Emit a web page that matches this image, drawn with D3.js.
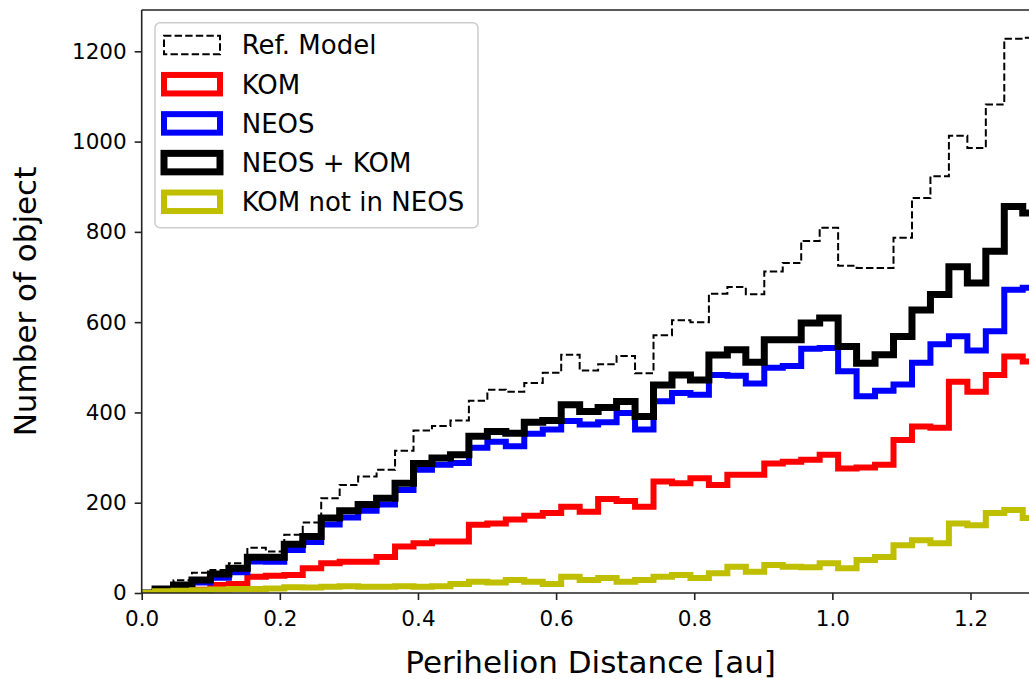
<!DOCTYPE html>
<html><head><meta charset="utf-8">
<script src="https://cdn.jsdelivr.net/npm/d3@7"></script>
<style>
body{margin:0;background:#fff}
svg{display:block}
text{font-family:"DejaVu Sans",sans-serif;fill:#000}
</style>
</head><body>
<svg id="chart" width="1029" height="679"></svg>
<script>
// ---- data (histogram bins: first edge and width, in au) ----
const binStart = -0.0074;
const binWidth = 0.02673;

const refModel = [0, 12,28,45,51,66,100,92,129,156,210,239,258,273,315,360,370,382,426,450,446,465,488,528,493,507,525,487,571,604,600,663,678,662,712,731,780,809,725,720,720,787,875,923,1013,986,1082,1228,1230];
const komValues = [0, 4,5,7,18,20,36,38,40,55,66,69,69,80,103,110,114,114,151,154,163,171,177,191,180,208,204,191,247,243,254,239,262,262,287,291,295,306,276,278,284,339,369,366,468,446,483,524,513];
const neosValues = [0, 5,13,23,34,46,70,69,95,113,152,167,182,196,228,273,284,288,322,335,325,353,362,381,373,378,399,362,425,443,439,483,481,464,499,503,541,543,491,436,448,462,510,551,569,537,580,672,676];
const neosKomValues = [0, 9,18,29,42,55,79,79,108,125,166,182,196,210,243,287,299,306,347,358,354,378,382,417,402,411,424,391,461,483,472,527,539,511,561,561,598,609,546,509,528,568,627,661,723,687,757,856,842];
const komNotNeosValues = [0, 4,5,6,8,9,9,10,13,12,14,15,14,14,15,14,15,20,25,23,29,25,20,36,29,33,25,29,36,40,33,44,58,47,62,58,57,66,55,73,80,106,117,110,154,150,177,184,166];

const seriesNames = ["Ref. Model","KOM","NEOS","NEOS + KOM","KOM not in NEOS"];
const xTicks = [0.0,0.2,0.4,0.6,0.8,1.0,1.2];
const yTicks = [0,200,400,600,800,1000,1200];
const xLabel = "Perihelion Distance [au]";
const yLabel = "Number of object";

(function(){
// ---- styles ----
const styles = [
  {values: refModel, color:"#000000", width:2, dash:"7.4,3.2"},
  {values: komValues, color:"#ff0000", width:6, dash:null},
  {values: neosValues, color:"#0000ff", width:6, dash:null},
  {values: neosKomValues, color:"#000000", width:7, dash:null},
  {values: komNotNeosValues, color:"#bfbf00", width:6, dash:null}
];

const svg = d3.select("#chart");
const pLeft = 141.7, pTop = 10, pBottom = 593;
const pxPerUnit = (970.5 - 141.7) / 1.2;
const x = d3.scaleLinear().domain([0, 1.3]).range([pLeft, pLeft + 1.3 * pxPerUnit]);
const y = d3.scaleLinear().domain([0, 1291.5]).range([pBottom, pTop]);

svg.append("defs").append("clipPath").attr("id","clip")
  .append("rect").attr("x", x(0)).attr("y", y(1291.5))
  .attr("width", x(1.3)-x(0)).attr("height", y(0)-y(1291.5));

const plot = svg.append("g").attr("clip-path","url(#clip)");

function stepPoints(vals){
  const pts = [[binStart, 0]];
  vals.forEach((v,i)=>{
    const e0 = binStart + i*binWidth, e1 = binStart + (i+1)*binWidth;
    pts.push([e0, v]); pts.push([e1, v]);
  });
  pts.push([binStart + vals.length*binWidth, 0]);
  return pts;
}
const line = d3.line().x(d=>x(d[0])).y(d=>y(d[1]));

styles.forEach(s=>{
  plot.append("path")
    .attr("d", line(stepPoints(s.values)))
    .attr("fill","none")
    .attr("stroke", s.color)
    .attr("stroke-width", s.width)
    .attr("stroke-linejoin","miter")
    .attr("stroke-dasharray", s.dash);
});

// ---- axes ----
const xAxis = d3.axisBottom(x).tickValues(xTicks).tickFormat(d3.format(".1f")).tickSize(7).tickPadding(6);
const yAxis = d3.axisLeft(y).tickValues(yTicks).tickFormat(d3.format("d")).tickSize(7).tickPadding(8);

const gx = svg.append("g").attr("transform",`translate(0,${pBottom})`).call(xAxis);
const gy = svg.append("g").attr("transform",`translate(${pLeft},0)`).call(yAxis);
[gx, gy].forEach(g=>{
  g.select(".domain").remove();
  g.selectAll(".tick line").attr("stroke","#222").attr("stroke-width",1.6);
  g.selectAll(".tick text").attr("font-size",21.5).attr("font-family","DejaVu Sans").attr("fill","#000");
});
gx.selectAll(".tick text").attr("dy","0.92em");

// spines
const spine = (x1,y1,x2,y2)=>svg.append("line").attr("x1",x1).attr("x2",x2).attr("y1",y1).attr("y2",y2)
  .attr("stroke","#222").attr("stroke-width",1.6);
spine(pLeft,pTop,pLeft,pBottom);
spine(pLeft,pBottom,x(1.3),pBottom);
spine(pLeft,pTop,x(1.3),pTop);
spine(x(1.3),pTop,x(1.3),pBottom);

// axis labels
svg.append("text").attr("x",(x(0)+x(1.3))/2).attr("y",673).attr("text-anchor","middle")
  .attr("font-size",31).text(xLabel);
svg.append("text").attr("transform",`translate(36,${(pTop+pBottom)/2}) rotate(-90)`).attr("text-anchor","middle")
  .attr("font-size",31).text(yLabel);

// ---- legend ----
const lg = svg.append("g");
lg.append("rect").attr("x",155).attr("y",22.7).attr("width",323).attr("height",205)
  .attr("rx",5).attr("fill","#fff").attr("fill-opacity",0.8).attr("stroke","#cccccc").attr("stroke-width",1.5);
seriesNames.forEach((name,i)=>{
  const cy = 45 + i*39.2;
  const s = styles[i];
  lg.append("rect").attr("x",164).attr("y",cy-9.25).attr("width",56).attr("height",18.5)
    .attr("fill","none").attr("stroke",s.color).attr("stroke-width",s.width)
    .attr("stroke-dasharray", s.dash);
  lg.append("text").attr("x",241.7).attr("y",cy).attr("dy","0.36em").attr("font-size",26).text(name);
});
})();
</script>
</body></html>
